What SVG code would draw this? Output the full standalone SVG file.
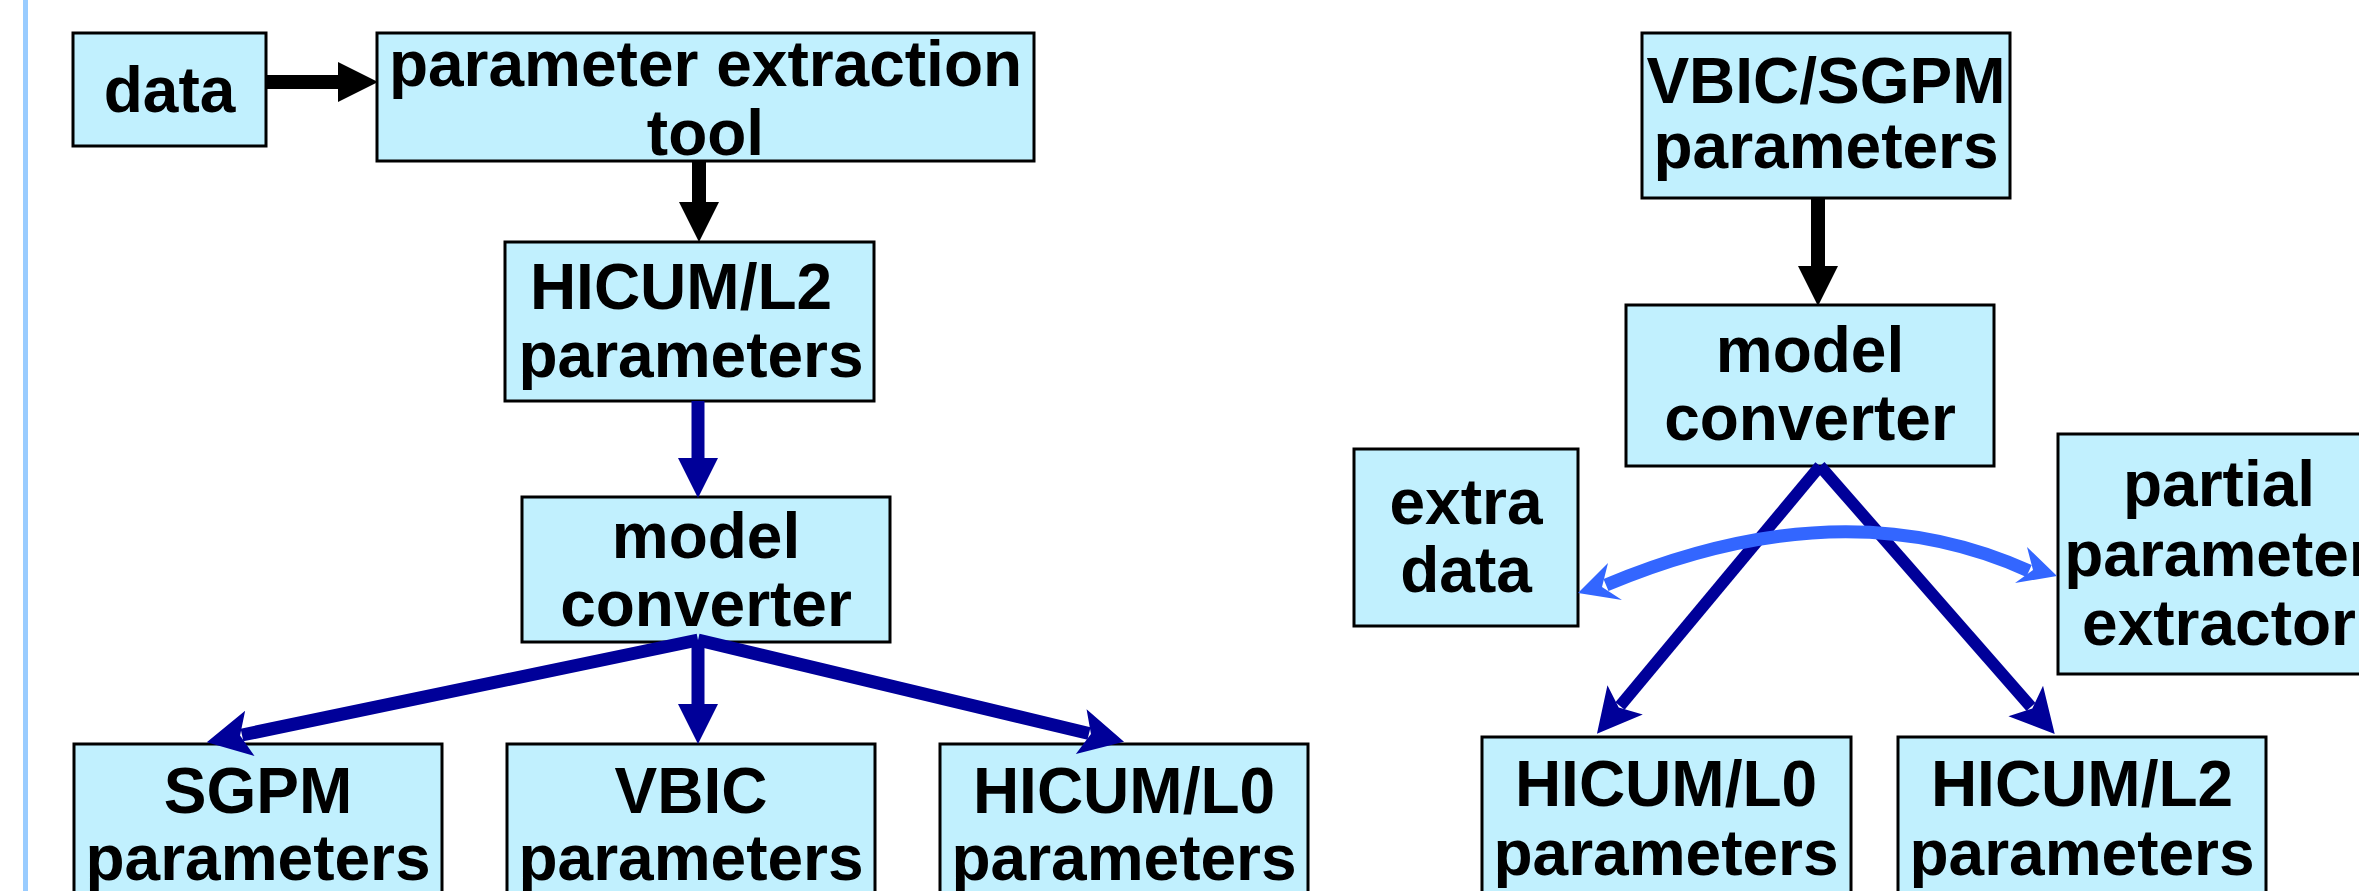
<svg xmlns="http://www.w3.org/2000/svg" width="2359" height="891" viewBox="0 0 2359 891">
  <style>
    .box { fill: #c1f0fe; stroke: #000000; stroke-width: 3; }
    .lbl { font-family: "Liberation Sans", Arial, sans-serif; font-weight: bold; font-size: 64px; fill: #000000; text-anchor: middle; }
    .blk { stroke: #000000; stroke-width: 14; fill: none; }
    .dkb { stroke: #000099; stroke-width: 13; fill: none; }
    .dkb2 { stroke: #000099; stroke-width: 12; fill: none; }
    .lbc { stroke: #3366ff; stroke-width: 13; fill: none; }
  </style>
  <defs>
    <marker id="headBlack" markerUnits="userSpaceOnUse" markerWidth="50" markerHeight="50" refX="0" refY="25" orient="auto" overflow="visible">
      <path d="M0,5 L40,25 L0,45 z" fill="#000000"/>
    </marker>
    <marker id="headBlue" markerUnits="userSpaceOnUse" markerWidth="50" markerHeight="50" refX="0" refY="25" orient="auto" overflow="visible">
      <path d="M0,5 L40,25 L0,45 z" fill="#000099"/>
    </marker>
    <marker id="headBlueBarb" markerUnits="userSpaceOnUse" markerWidth="50" markerHeight="50" refX="4" refY="25" orient="auto" overflow="visible">
      <path d="M-4,2 L40,25 L-4,48 L6,25 z" fill="#000099"/>
    </marker>
  </defs>

  <rect x="0" y="0" width="2359" height="891" fill="#ffffff"/>
  <!-- page margin rule -->
  <rect x="23" y="0" width="5" height="891" fill="#99ccff"/>

  <!-- left flow: extraction and conversion -->
  <g id="data">
    <rect class="box" x="73" y="33" width="193" height="113"/>
    <text class="lbl" x="169.5" y="112">data</text>
  </g>
  <g id="extraction-tool">
    <rect class="box" x="377" y="33" width="657" height="128"/>
    <text class="lbl" x="705.5" y="86">parameter extraction</text>
    <text class="lbl" x="705.5" y="155">tool</text>
  </g>
  <g id="hicum-l2-left">
    <rect class="box" x="505" y="242" width="369" height="159"/>
    <text class="lbl" x="681" y="309">HICUM/L2</text>
    <text class="lbl" x="691" y="377">parameters</text>
  </g>
  <g id="converter-left">
    <rect class="box" x="522" y="497" width="368" height="145"/>
    <text class="lbl" x="706" y="558">model</text>
    <text class="lbl" x="706" y="626">converter</text>
  </g>
  <g id="sgpm">
    <rect class="box" x="74" y="744" width="368" height="160"/>
    <text class="lbl" x="258" y="813">SGPM</text>
    <text class="lbl" x="258" y="880">parameters</text>
  </g>
  <g id="vbic">
    <rect class="box" x="507" y="744" width="368" height="160"/>
    <text class="lbl" x="691" y="813">VBIC</text>
    <text class="lbl" x="691" y="880">parameters</text>
  </g>
  <g id="hicum-l0-left">
    <rect class="box" x="940" y="744" width="368" height="160"/>
    <text class="lbl" x="1124" y="813">HICUM/L0</text>
    <text class="lbl" x="1124" y="880">parameters</text>
  </g>

  <!-- right flow: conversion with partial extraction -->
  <g id="vbic-sgpm">
    <rect class="box" x="1642" y="33" width="368" height="165"/>
    <text class="lbl" x="1826" y="103">VBIC/SGPM</text>
    <text class="lbl" x="1826" y="168">parameters</text>
  </g>
  <g id="converter-right">
    <rect class="box" x="1626" y="305" width="368" height="161"/>
    <text class="lbl" x="1810" y="372">model</text>
    <text class="lbl" x="1810" y="440">converter</text>
  </g>
  <g id="extra-data">
    <rect class="box" x="1354" y="449" width="224" height="177"/>
    <text class="lbl" x="1466" y="524">extra</text>
    <text class="lbl" x="1466" y="592">data</text>
  </g>
  <g id="partial-extractor">
    <rect class="box" x="2058" y="434" width="324" height="240"/>
    <text class="lbl" x="2219" y="506">partial</text>
    <text class="lbl" x="2219" y="576">parameter</text>
    <text class="lbl" x="2219" y="645">extractor</text>
  </g>
  <g id="hicum-l0-right">
    <rect class="box" x="1482" y="737" width="369" height="165"/>
    <text class="lbl" x="1666" y="806">HICUM/L0</text>
    <text class="lbl" x="1666" y="875">parameters</text>
  </g>
  <g id="hicum-l2-right">
    <rect class="box" x="1898" y="737" width="368" height="165"/>
    <text class="lbl" x="2082" y="806">HICUM/L2</text>
    <text class="lbl" x="2082" y="875">parameters</text>
  </g>

  <g id="connectors">
    <!-- left flow -->
    <path class="blk" d="M266,82 L338,82" stroke-width="13" marker-end="url(#headBlack)"/>
    <path class="blk" d="M699,161 L699,202" marker-end="url(#headBlack)"/>
    <path class="dkb" d="M698,401 L698,458" stroke-width="14" marker-end="url(#headBlue)"/>
    <path class="dkb" d="M698,640 L698,704" stroke-width="14" marker-end="url(#headBlue)"/>
    <path class="dkb" d="M698,640 L242,735" marker-end="url(#headBlueBarb)"/>
    <path class="dkb" d="M698,640 L1089,733.5" marker-end="url(#headBlueBarb)"/>

    <!-- right flow -->
    <path class="dkb2" d="M1820,466 L1620,706" stroke-width="13" marker-end="url(#headBlueBarb)"/>
    <path class="dkb2" d="M1820,466 L2031,707" stroke-width="13" marker-end="url(#headBlueBarb)"/>
    <path class="blk" d="M1818,198 L1818,266" marker-end="url(#headBlack)"/>

    <!-- two-way exchange between extra data and partial extractor -->
    <path class="lbc" d="M1606,585 Q1842,486 2029,571"/>
    <polygon points="1578,593 1608,563 1602,587 1622,600" fill="#3366ff"/>
    <polygon points="2057,576 2027,547 2033,570 2015,583" fill="#3366ff"/>
  </g>
</svg>
